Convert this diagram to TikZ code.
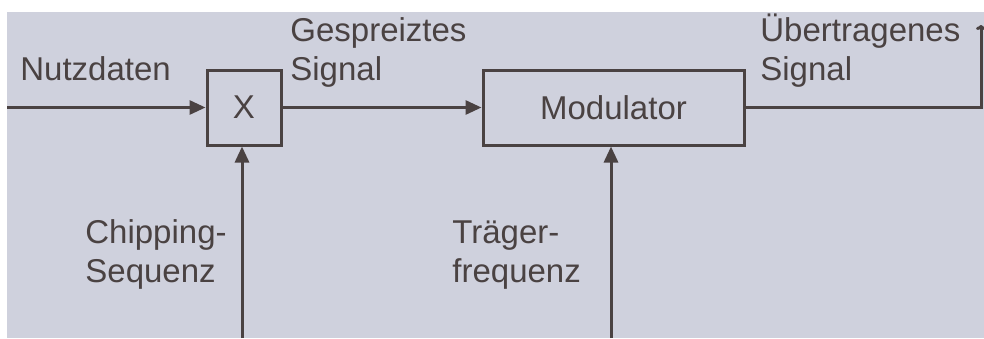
\documentclass[tikz,border=0pt]{standalone}
\usepackage{fontspec}
\setmainfont{Liberation Sans}
\usetikzlibrary{arrows.meta,positioning}
\definecolor{ink}{RGB}{74,66,66}
\definecolor{bg}{RGB}{207,209,221}
\tikzset{
  blk/.style={rectangle,draw=ink,line width=1.5pt,inner sep=0pt,font=\fontsize{16.5}{19.25}\selectfont,text=ink},
  arr/.style={-{Triangle[length=8pt,width=7pt]},draw=ink,line width=1.5pt},
  lbl/.style={inner sep=0pt,align=left,anchor=base west,font=\fontsize{16.5}{19.25}\selectfont,text=ink},
}

\begin{document}
\begin{tikzpicture}[x=0.5pt,y=-0.5pt]
  \useasboundingbox (0,0) rectangle (984,338);
  \fill[bg] (7,12) rectangle (984,338);
  \node[blk,minimum width=37pt,minimum height=37.5pt] (x) at (244,107.5) {X};
  \node[blk,minimum width=130.5pt,minimum height=37.5pt] (mod) at (613.5,107.5) {Modulator};
  \coordinate (in) at (7,107.5);
  \coordinate (chip) at (242,338);
  \coordinate (tr) at (611,338);
  \coordinate (out) at (981,25);
  \draw[arr] (in) -- (x);
  \draw[arr] (x) -- (mod);
  \draw[arr] (chip) -- (chip |- x.south);
  \draw[arr] (tr) -- (tr |- mod.south);
  \draw[ink,line width=1.5pt,-{To[length=2.5pt,width=5pt]}] (mod.east) -| (out);
  % labels (base = last line)
  \node[lbl] (nd) at (20,80) {Nutzdaten};
  \node[lbl] (gs) at (290,80) {Gespreiztes\\Signal};
  \node[lbl] (us) at (760,80) {Übertragenes\\Signal};
  \node[lbl] (cs) at (85,282) {Chipping-\\Sequenz};
  \node[lbl] (tf) at (452,282) {Träger-\\frequenz};
\end{tikzpicture}
\end{document}
